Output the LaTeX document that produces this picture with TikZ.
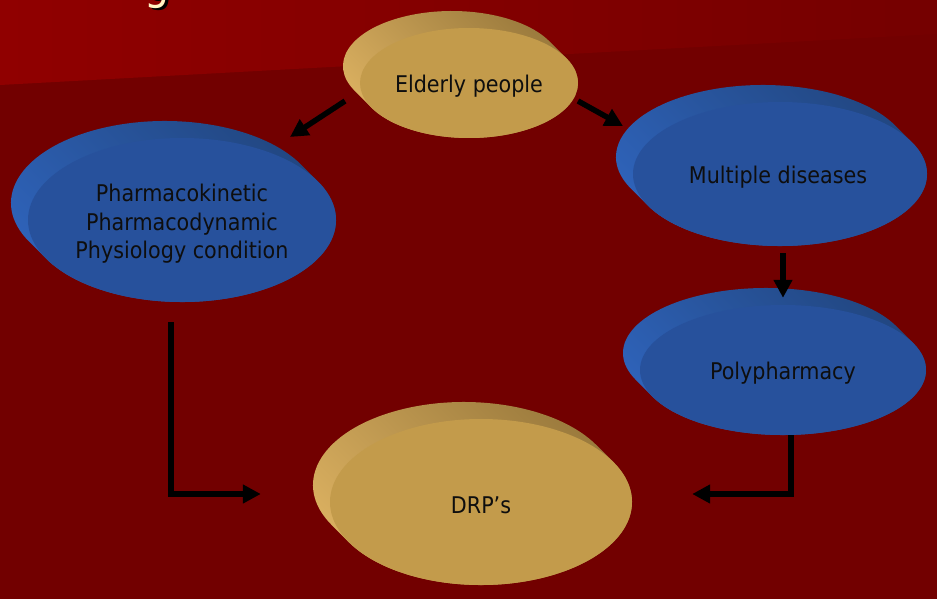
\documentclass[tikz,border=0pt]{standalone}
\usepackage{fontspec}
\setmainfont{DejaVu Sans Condensed}
\usetikzlibrary{shapes.geometric, arrows.meta, calc}
\definecolor{bgdark}{HTML}{720000}
\definecolor{bglight}{HTML}{900000}
\definecolor{bgmid}{HTML}{870000}
\definecolor{bgright}{HTML}{750000}
\definecolor{tanfront}{HTML}{C39B4B}
\definecolor{tanlight}{HTML}{DEB362}
\definecolor{tandark}{HTML}{96763A}
\definecolor{bluefront}{HTML}{27519C}
\definecolor{bluelight}{HTML}{2F64BC}
\definecolor{bluedark}{HTML}{21457E}
\definecolor{txt}{HTML}{0E0E0E}
\definecolor{cream}{HTML}{FFF3C4}
% extruded side of a disc: hull of the front ellipse and its copy shifted by (-17,-17)
\newcommand{\mydisc}[6]{%
  \pgfmathsetmacro\tz{-atan(#4/#3)}%
  \shade[top color=#6, bottom color=#5, shading angle=-45]
    ($(#1,#2)+(\tz:#3 and #4)$)
    arc[start angle=\tz, end angle=\tz+180, x radius=#3, y radius=#4]
    -- ++(-17,-17)
    arc[start angle=\tz+180, end angle=\tz+360, x radius=#3, y radius=#4]
    -- cycle;
}
\tikzset{
  front/.style={ellipse, inner sep=0pt},
  label text/.style={inner sep=0pt, font=\fontsize{23}{28.5}\selectfont,
    text=txt, align=center},
  arr/.style={draw=black, line width=5.5pt, line join=miter,
    -{Triangle[length=18pt,width=18pt]}},
}
\begin{document}
\begin{tikzpicture}[x=1pt, y=-1pt]
\useasboundingbox (0,0) rectangle (937,599);
\clip (0,0) rectangle (937,599);
% background
\fill[bgdark] (0,0) rectangle (937,599);
\shade[left color=bglight, middle color=bgmid, right color=bgright]
  (0,0) -- (937,0) -- (937,34) -- (0,85) -- cycle;
% cut-off title letter
\node[font=\fontsize{44}{44}\selectfont, text=black, anchor=base, inner sep=0pt] (gshadow) at (160.5,2) {g};
\node[font=\fontsize{44}{44}\selectfont, text=cream, anchor=base, inner sep=0pt] (gletter) at (157.5,0) {g};
% discs
\mydisc{469}{83}{109}{55}{tanlight}{tandark}
\node[front, fill=tanfront, minimum width=218, minimum height=110] (elder) at (469,83) {};
\node[label text] (elderT) at ($(elder.center)+(0,3)$) {Elderly people};
\mydisc{182}{220}{154}{82}{bluelight}{bluedark}
\node[front, fill=bluefront, minimum width=308, minimum height=164] (pharma) at (182,220) {};
\node[label text] (pharmaT) at ($(pharma.center)+(0,4)$)
  {Pharmacokinetic\\Pharmacodynamic\\Physiology condition};
\mydisc{780}{174}{147}{72}{bluelight}{bluedark}
\node[front, fill=bluefront, minimum width=294, minimum height=144] (multi) at (780,174) {};
\node[label text] (multiT) at ($(multi.center)+(-2,3)$) {Multiple diseases};
\mydisc{783}{370}{143}{65}{bluelight}{bluedark}
\node[front, fill=bluefront, minimum width=286, minimum height=130] (poly) at (783,370) {};
\node[label text] (polyT) at ($(poly.center)+(0,3)$) {Polypharmacy};
\mydisc{481}{502}{151}{83}{tanlight}{tandark}
\node[front, fill=tanfront, minimum width=302, minimum height=166] (drp) at (481,502) {};
\node[label text] (drpT) at ($(drp.center)+(0,3)$) {DRP’s};
% connectors
\draw[arr] ($(elder.center)+(-124,18)$) -- ($(pharma.center)+(108,-83)$);
\draw[arr] ($(elder.center)+(109,18)$) -- ($(multi.center)+(-157,-48)$);
\draw[arr] ($(multi.south)+(3,7)$) -- ($(poly.north)+(0,-7)$);
\draw[arr] ($(poly.south)+(8,0)$) |- ($(drp.east)+(60,-8)$);
\draw[arr] ($(pharma.south)+(-11,20)$) |- ($(drp.west)+(-69,-8)$);
\end{tikzpicture}
\end{document}
